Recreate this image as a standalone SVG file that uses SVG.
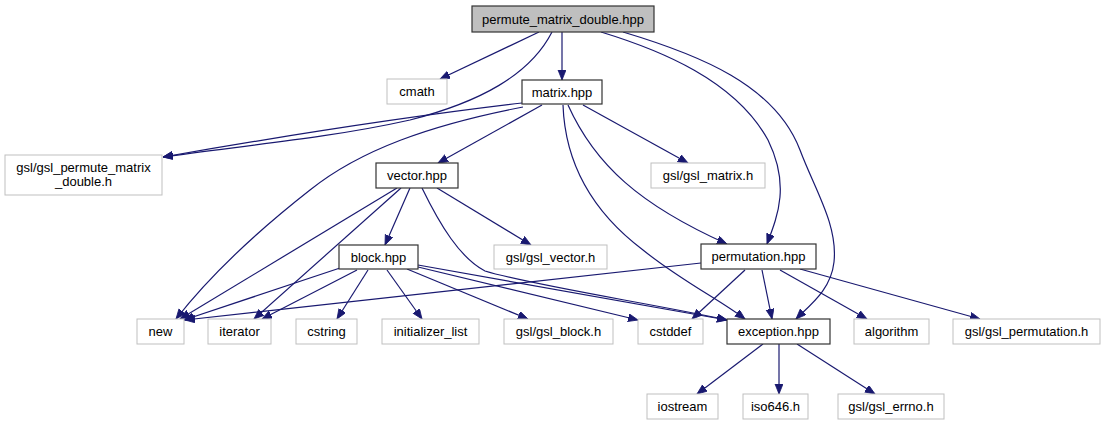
<svg xmlns="http://www.w3.org/2000/svg" width="1105" height="425" viewBox="0 0 1105 425">
<style>
  .ext rect { fill: #ffffff; stroke: #bfbfbf; stroke-width: 1; }
  .doc rect { fill: #ffffff; stroke: #333333; stroke-width: 1.2; }
  .root rect { fill: #bfbfbf; stroke: #333333; stroke-width: 1.2; }
  text { font-family: "Liberation Sans", Arial, sans-serif; font-size: 13px; fill: #000000; text-anchor: middle; }
  #edges path { fill: none; stroke: #191970; stroke-width: 1.2; marker-end: url(#arr); }
</style>
<defs>
  <marker id="arr" markerUnits="userSpaceOnUse" markerWidth="11" markerHeight="9" refX="10" refY="4" orient="auto">
    <path d="M0,0 L10,4 L0,8 z" fill="#191970" stroke="#191970" stroke-width="0.8"/>
  </marker>
</defs>
<rect width="1105" height="425" fill="#ffffff"/>
<g id="edges">
  <path d="M539,32 L440,79"/>
  <path d="M552,32 C530,75 480,102 410,120 C330,138 240,146 163,157"/>
  <path d="M562,32 L562,80"/>
  <path d="M601,32 C660,50 735,80 768,140 C790,185 778,215 767,244"/>
  <path d="M623,32 C700,55 775,85 800,150 C815,190 838,225 834,262 C831,290 810,305 796,319"/>
  <path d="M522,103 C420,115 300,133 163,157"/>
  <path d="M542,105 L438,163"/>
  <path d="M523,107 C430,125 360,150 310,190 C250,237 205,282 176,319"/>
  <path d="M583,105 L688,163"/>
  <path d="M568,105 C595,165 640,205 727,244"/>
  <path d="M563,105 C565,160 590,210 643,250 C680,280 720,300 745,319"/>
  <path d="M397,188 L180,319"/>
  <path d="M401,188 L254,319"/>
  <path d="M410,188 L385,245"/>
  <path d="M437,188 L531,245"/>
  <path d="M422,188 C440,225 460,258 485,271 C530,285 660,305 727,320"/>
  <path d="M340,268 L184,320"/>
  <path d="M357,270 L262,319"/>
  <path d="M368,270 L337,319"/>
  <path d="M387,270 L422,319"/>
  <path d="M407,269 L528,319"/>
  <path d="M418,267 L638,320"/>
  <path d="M418,265 L727,320"/>
  <path d="M701,263 L185,320"/>
  <path d="M745,270 L692,319"/>
  <path d="M762,270 L772,319"/>
  <path d="M780,270 L867,319"/>
  <path d="M800,269 L980,319"/>
  <path d="M763,344 L697,394"/>
  <path d="M779,344 L779,394"/>
  <path d="M797,344 L875,394"/>
</g>
<g id="root" class="root"><rect x="472" y="6" width="182" height="26"/><text x="563" y="23.5">permute_matrix_double.hpp</text></g>
<g id="cmath" class="ext"><rect x="387" y="79" width="60" height="25"/><text x="417" y="96">cmath</text></g>
<g id="matrix" class="doc"><rect x="522" y="80" width="80" height="24"/><text x="562" y="96.5">matrix.hpp</text></g>
<g id="gsl_permute_matrix_double" class="ext"><rect x="5" y="155" width="157" height="40"/><text x="83.5" y="171.5">gsl/gsl_permute_matrix</text><text x="83.5" y="185.5">_double.h</text></g>
<g id="vector" class="doc"><rect x="376" y="163" width="82" height="25"/><text x="417" y="180">vector.hpp</text></g>
<g id="gsl_matrix" class="ext"><rect x="651" y="163" width="114" height="25"/><text x="708" y="180">gsl/gsl_matrix.h</text></g>
<g id="block" class="doc"><rect x="339" y="245" width="79" height="24"/><text x="378.5" y="261.5">block.hpp</text></g>
<g id="gsl_vector" class="ext"><rect x="494" y="245" width="113" height="24"/><text x="550.5" y="261.5">gsl/gsl_vector.h</text></g>
<g id="permutation" class="doc"><rect x="701" y="244" width="115" height="25"/><text x="758.5" y="261">permutation.hpp</text></g>
<g id="new" class="ext"><rect x="137" y="319" width="47" height="25"/><text x="160.5" y="336">new</text></g>
<g id="iterator" class="ext"><rect x="208" y="319" width="63" height="25"/><text x="239.5" y="336">iterator</text></g>
<g id="cstring" class="ext"><rect x="296" y="319" width="61" height="25"/><text x="326.5" y="336">cstring</text></g>
<g id="initializer_list" class="ext"><rect x="382" y="319" width="97" height="25"/><text x="430.5" y="336">initializer_list</text></g>
<g id="gsl_block" class="ext"><rect x="504" y="319" width="109" height="25"/><text x="558.5" y="336">gsl/gsl_block.h</text></g>
<g id="cstddef" class="ext"><rect x="638" y="319" width="65" height="25"/><text x="670.5" y="336">cstddef</text></g>
<g id="exception" class="doc"><rect x="727" y="319" width="103" height="25"/><text x="778.5" y="336">exception.hpp</text></g>
<g id="algorithm" class="ext"><rect x="854" y="319" width="75" height="25"/><text x="891.5" y="336">algorithm</text></g>
<g id="gsl_permutation" class="ext"><rect x="953" y="319" width="147" height="25"/><text x="1026.5" y="336">gsl/gsl_permutation.h</text></g>
<g id="iostream" class="ext"><rect x="647" y="394" width="71" height="25"/><text x="682.5" y="411">iostream</text></g>
<g id="iso646" class="ext"><rect x="743" y="394" width="65" height="25"/><text x="775.5" y="411">iso646.h</text></g>
<g id="gsl_errno" class="ext"><rect x="838" y="394" width="106" height="25"/><text x="891" y="411">gsl/gsl_errno.h</text></g>
</svg>
